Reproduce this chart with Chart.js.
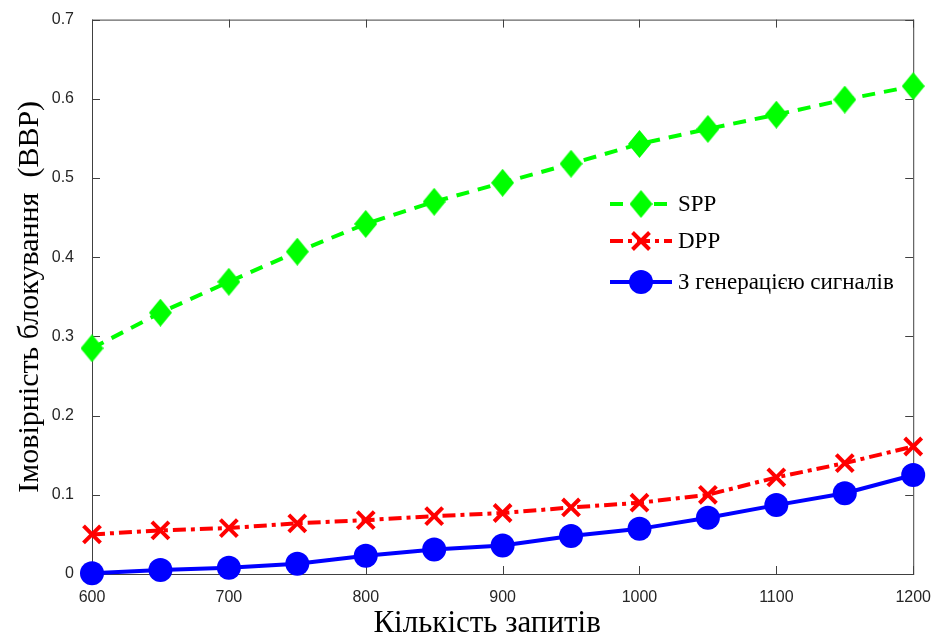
<!DOCTYPE html>
<html>
<head>
<meta charset="utf-8">
<script src="https://cdn.jsdelivr.net/npm/chart.js@4.4.1/dist/chart.umd.min.js"></script>
<style>
    html, body { margin: 0; padding: 0; background: #fff; }
    #wrap { width: 937px; height: 637px; }
</style>
</head>
<body>
<div id="wrap"><canvas id="chart" width="937" height="637"></canvas></div>
<script>
// Data
const requests = [600, 650, 700, 750, 800, 850, 900, 950, 1000, 1050, 1100, 1150, 1200];
const sppValues = [0.285, 0.330, 0.369, 0.407, 0.442, 0.470, 0.494, 0.518, 0.543, 0.562, 0.580, 0.599, 0.616];
const dppValues = [0.050, 0.055, 0.058, 0.064, 0.068, 0.073, 0.077, 0.084, 0.090, 0.100, 0.122, 0.140, 0.161];
const genValues = [0.001, 0.005, 0.008, 0.013, 0.023, 0.031, 0.036, 0.048, 0.057, 0.071, 0.087, 0.102, 0.125];
const seriesNames = ['SPP', 'DPP', 'З генерацією сигналів'];
const xTitle = 'Кількість запитів';
const yTitle = 'Імовірність блокування  (ВВР)';

const AXIS_COLOR = '#404040';

// MATLAB-like diamond marker (a bit taller than wide)
function makeDiamond(w, h, color) {
    const c = document.createElement('canvas');
    c.width = w;
    c.height = h;
    const g = c.getContext('2d');
    g.fillStyle = color;
    g.beginPath();
    g.moveTo(w / 2, 0);
    g.lineTo(w, h / 2);
    g.lineTo(w / 2, h);
    g.lineTo(0, h / 2);
    g.closePath();
    g.fill();
    return c;
}
const diamond = makeDiamond(23, 28, '#00ff00');

const toPoints = vals => vals.map((v, i) => ({ x: requests[i], y: v }));

// Box with inward ticks on all four sides
const framePlugin = {
    id: 'frame',
    beforeDatasetsDraw(chart) {
        const { ctx, chartArea: a, scales } = chart;
        ctx.save();
        ctx.strokeStyle = AXIS_COLOR;
        ctx.lineWidth = 1;
        ctx.strokeRect(a.left + 0.5, a.top + 0.5, a.right - a.left, a.bottom - a.top);
        const len = 8;
        ctx.beginPath();
        scales.x.ticks.forEach(t => {
            const px = Math.round(scales.x.getPixelForValue(t.value)) + 0.5;
            ctx.moveTo(px, a.bottom);
            ctx.lineTo(px, a.bottom - len);
            ctx.moveTo(px, a.top);
            ctx.lineTo(px, a.top + len);
        });
        scales.y.ticks.forEach(t => {
            const py = Math.round(scales.y.getPixelForValue(t.value)) + 0.5;
            ctx.moveTo(a.left, py);
            ctx.lineTo(a.left + len, py);
            ctx.moveTo(a.right, py);
            ctx.lineTo(a.right - len, py);
        });
        ctx.stroke();
        ctx.restore();
    }
};

// Legend drawn like MATLAB: line sample with marker in the middle
const legendPlugin = {
    id: 'matlabLegend',
    afterDatasetsDraw(chart) {
        const { ctx } = chart;
        const x0 = 610, x1 = 672, rowY = [204, 241, 282];
        ctx.save();
        chart.data.datasets.forEach((ds, i) => {
            const y = rowY[i];
            const cx = (x0 + x1) / 2;
            ctx.strokeStyle = ds.borderColor;
            ctx.lineWidth = ds.borderWidth;
            ctx.setLineDash(ds.borderDash || []);
            ctx.beginPath();
            ctx.moveTo(x0, y);
            ctx.lineTo(x1, y);
            ctx.stroke();
            ctx.setLineDash([]);
            ctx.fillStyle = ds.pointBackgroundColor;
            ctx.strokeStyle = ds.pointBorderColor;
            ctx.lineWidth = ds.pointBorderWidth;
            if (ds.pointStyle === diamond) {
                ctx.drawImage(diamond, cx - diamond.width / 2, y - diamond.height / 2);
            } else if (ds.pointStyle === 'circle') {
                ctx.beginPath();
                ctx.arc(cx, y, ds.pointRadius, 0, Math.PI * 2);
                ctx.fill();
            } else {
                const r = ds.pointRadius * Math.SQRT1_2;
                ctx.beginPath();
                ctx.moveTo(cx - r, y - r); ctx.lineTo(cx + r, y + r);
                ctx.moveTo(cx + r, y - r); ctx.lineTo(cx - r, y + r);
                ctx.stroke();
            }
            ctx.fillStyle = '#000';
            ctx.font = '23px "Liberation Serif", "Times New Roman", serif';
            ctx.textBaseline = 'middle';
            ctx.fillText(seriesNames[i], x1 + 6, y + 1);
        });
        ctx.restore();
    }
};

new Chart(document.getElementById('chart'), {
    type: 'line',
    data: {
        datasets: [
            {
                label: seriesNames[0],
                data: toPoints(sppValues),
                borderColor: '#00ff00',
                borderWidth: 4,
                borderDash: [13, 9],
                pointStyle: diamond,
                pointRadius: 13,
                pointBackgroundColor: '#00ff00',
                pointBorderColor: '#00ff00',
                pointBorderWidth: 1,
                tension: 0,
                clip: false
            },
            {
                label: seriesNames[1],
                data: toPoints(dppValues),
                borderColor: '#ff0000',
                borderWidth: 4,
                borderDash: [13, 5, 4, 5],
                pointStyle: 'crossRot',
                pointRadius: 12,
                pointBackgroundColor: '#ff0000',
                pointBorderColor: '#ff0000',
                pointBorderWidth: 4,
                tension: 0,
                clip: false
            },
            {
                label: seriesNames[2],
                data: toPoints(genValues),
                borderColor: '#0000ff',
                borderWidth: 4,
                pointStyle: 'circle',
                pointRadius: 12,
                pointBackgroundColor: '#0000ff',
                pointBorderColor: '#0000ff',
                pointBorderWidth: 0,
                tension: 0,
                clip: false
            }
        ]
    },
    options: {
        responsive: false,
        animation: false,
        events: [],
        layout: {
            autoPadding: false,
            padding: { left: 0, top: 17, right: 16, bottom: 0 }
        },
        plugins: {
            legend: { display: false },
            tooltip: { enabled: false }
        },
        scales: {
            x: {
                type: 'linear',
                min: 600,
                max: 1200,
                grid: { display: false },
                border: { display: false },
                ticks: {
                    stepSize: 100,
                    padding: 6,
                    color: '#262626',
                    font: { family: '"Liberation Sans", Arial, sans-serif', size: 16 },
                    callback: v => String(v)
                },
                title: {
                    display: true,
                    // trailing spaces shift the centred title a little left, as in the original
                    text: xTitle + '\u00a0\u00a0\u00a0\u00a0',
                    color: '#000',
                    padding: 0,
                    font: { family: '"Liberation Serif", "Times New Roman", serif', size: 31, lineHeight: 0.85 }
                },
                afterFit(scale) { scale.height = 63; }
            },
            y: {
                min: 0,
                max: 0.7,
                grid: { display: false },
                border: { display: false },
                ticks: {
                    stepSize: 0.1,
                    padding: 10,
                    color: '#262626',
                    font: { family: '"Liberation Sans", Arial, sans-serif', size: 16 },
                    callback: v => String(+v.toFixed(1))
                },
                title: {
                    display: true,
                    text: yTitle,
                    color: '#000',
                    padding: { top: 12, bottom: 0 },
                    font: { family: '"Liberation Serif", "Times New Roman", serif', size: 30 }
                },
                afterFit(scale) { scale.width = 92; }
            }
        }
    },
    plugins: [framePlugin, legendPlugin]
});
</script>
</body>
</html>
